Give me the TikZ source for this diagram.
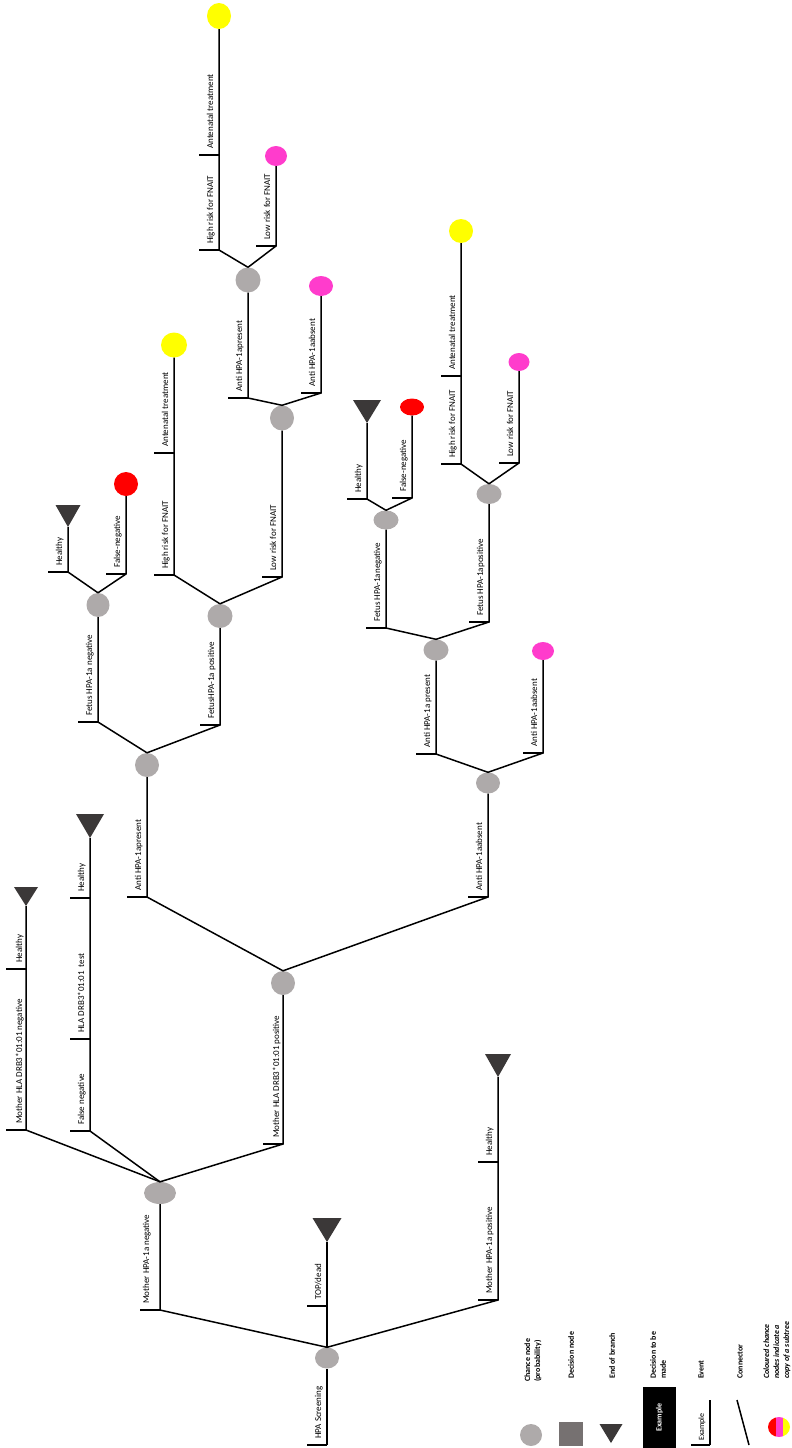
\documentclass[tikz,border=0pt]{standalone}
\usepackage{fontspec}
\setmainfont{Carlito}
\usetikzlibrary{shapes.geometric}

\definecolor{chancegrey}{HTML}{AEAAAA}
\definecolor{endgrey}{HTML}{3B3838}
\definecolor{decgrey}{HTML}{767171}
\definecolor{subred}{HTML}{FF0000}
\definecolor{submag}{HTML}{FF3CCC}
\definecolor{subyel}{HTML}{FFFF00}

\tikzset{
  link/.style={line width=1.5pt, black},
  chance/.style={ellipse, fill=chancegrey, inner sep=0pt, minimum width=24pt, minimum height=22pt},
  subtree/.style={ellipse, inner sep=0pt, minimum width=24pt, minimum height=22pt},
  evlabel/.style={rotate=90, anchor=base west, inner sep=0pt, font=\fontsize{9}{10}\selectfont},
  legendtext/.style={rotate=90, anchor=west, align=left, inner sep=0pt, font=\bfseries\fontsize{8}{10}\selectfont},
}

% event tick with its rotated label: [gap]{coordinate}{text}
\newcommand\evmark[3][6]{%
  \draw[link] (#2) -- ++(-20,0);
  \node[evlabel] (#2-txt) at ([shift={(-#1,-6)}]#2) {#3};}
% end-of-branch triangle hanging above its apex: {apex}{width}{height}
\newcommand\branchstop[3]{%
  \fill[endgrey] (#1) -- ++(-#2/2,-#3) -- ++(#2,0) -- cycle;}

\begin{document}
\begin{tikzpicture}[x=1pt,y=-1pt]
\useasboundingbox (0,0) rectangle (792,1448);

% ---------- chance nodes ----------
\node[chance, minimum height=21pt] (root) at (327,1358) {};
\node[chance, minimum width=32pt] (n1) at (160,1193) {};
\node[chance, minimum height=24pt] (n2) at (283,983) {};
\node[chance, minimum height=24pt] (n3) at (147,765) {};
\node[chance, minimum height=21pt] (n4) at (488,783) {};
\node[chance, minimum width=23pt, minimum height=24pt] (n5) at (98,605) {};
\node[chance, minimum width=25pt, minimum height=24pt] (n6) at (220,616) {};
\node[chance, minimum height=25pt] (n7) at (282,418) {};
\node[chance, minimum width=25pt, minimum height=25pt] (n8) at (248,280) {};
\node[chance, minimum width=25pt, minimum height=21pt] (n9) at (436,650) {};
\node[chance, minimum width=25pt, minimum height=19pt] (n10) at (386,520) {};
\node[chance, minimum width=25pt, minimum height=20pt] (n11) at (489,494) {};

% ---------- coloured subtree copies ----------
\node[subtree, fill=subred, minimum height=24pt] (red1) at (126,484) {};
\node[subtree, fill=subred, minimum height=17pt] (red2) at (412,407) {};
\node[subtree, fill=subyel, minimum width=26pt, minimum height=25pt] (yel1) at (174,345) {};
\node[subtree, fill=subyel, minimum height=26pt] (yel2) at (219,16) {};
\node[subtree, fill=subyel, minimum height=24pt] (yel3) at (461,231) {};
\node[subtree, fill=submag, minimum height=20pt] (mag1) at (321,286) {};
\node[subtree, fill=submag, minimum width=22pt, minimum height=20pt] (mag2) at (276,156) {};
\node[subtree, fill=submag, minimum width=21pt, minimum height=18pt] (mag3) at (519,362) {};
\node[subtree, fill=submag, minimum width=22pt, minimum height=18pt] (mag4) at (543,651) {};

% ---------- event points ----------
\coordinate (eScreen) at (327,1445);
\coordinate (eMneg) at (160,1310);
\coordinate (eTop) at (327,1306);
\coordinate (eMpos) at (498,1300);
\coordinate (eH0) at (498,1162);
\coordinate (eHlaNeg) at (26,1130);
\coordinate (eH1) at (26,969);
\coordinate (eFalseNeg) at (90,1131);
\coordinate (eTest) at (90,1039);
\coordinate (eH2) at (90,898);
\coordinate (eHlaPos) at (283,1144);
\coordinate (eAp1) at (147,897);
\coordinate (eAb1) at (488,897);
\coordinate (eFneg1) at (98,722);
\coordinate (eFpos1) at (220,725);
\coordinate (eH3) at (68,572);
\coordinate (eFn1) at (126,574);
\coordinate (eHr1) at (174,575);
\coordinate (eAt1) at (174,453);
\coordinate (eLr1) at (282,577);
\coordinate (eAp2) at (248,398);
\coordinate (eAb2) at (321,393);
\coordinate (eHr2) at (219,250);
\coordinate (eAt2) at (219,155);
\coordinate (eLr2) at (276,246);
\coordinate (eAp3) at (436,754);
\coordinate (eAb3) at (543,753);
\coordinate (eFneg2) at (386,628);
\coordinate (eFpos2) at (489,622);
\coordinate (eH4) at (367,499);
\coordinate (eFn2) at (412,498);
\coordinate (eHr3) at (461,464);
\coordinate (eAt3) at (461,376);
\coordinate (eLr3) at (519,463);

% end-of-branch apexes
\coordinate (tTop) at (327,1242);
\coordinate (tH0) at (498,1077);
\coordinate (tH1) at (26,906);
\coordinate (tH2) at (90,838);
\coordinate (tH3) at (68,527);
\coordinate (tH4) at (367,423);

% ---------- connectors ----------
\draw[link] (eScreen) -- (root.south);
\draw[link] (root.north) -- (eMneg) -- (n1.south);
\draw[link] (root.north) -- (eTop) -- (tTop);
\draw[link] (root.north) -- (eMpos) -- (eH0) -- (tH0);

\draw[link] (n1.north) -- (eHlaNeg) -- (eH1) -- (tH1);
\draw[link] (n1.north) -- (eFalseNeg) -- (eTest) -- (eH2) -- (tH2);
\draw[link] (n1.north) -- (eHlaPos) -- (n2.south);

\draw[link] (n2.north) -- (eAp1) -- (n3.south);
\draw[link] (n2.north) -- (eAb1) -- (n4.south);

\draw[link] (n3.north) -- (eFneg1) -- (n5.south);
\draw[link] (n3.north) -- (eFpos1) -- (n6.south);

\draw[link] (n5.north) -- (eH3) -- (tH3);
\draw[link] (n5.north) -- (eFn1) -- (red1.south);

\draw[link] (n6.north) -- (eHr1) -- (eAt1) -- (yel1.south);
\draw[link] (n6.north) -- (eLr1) -- (n7.south);

\draw[link] (n7.north) -- (eAp2) -- (n8.south);
\draw[link] (n7.north) -- (eAb2) -- (mag1.south);

\draw[link] (n8.north) -- (eHr2) -- (eAt2) -- (yel2.south);
\draw[link] (n8.north) -- (eLr2) -- (mag2.south);

\draw[link] (n4.north) -- (eAp3) -- (n9.south);
\draw[link] (n4.north) -- (eAb3) -- (mag4.south);

\draw[link] (n9.north) -- (eFneg2) -- (n10.south);
\draw[link] (n9.north) -- (eFpos2) -- (n11.south);

\draw[link] (n10.north) -- (eH4) -- (tH4);
\draw[link] (n10.north) -- (eFn2) -- (red2.south);

\draw[link] (n11.north) -- (eHr3) -- (eAt3) -- (yel3.south);
\draw[link] (n11.north) -- (eLr3) -- (mag3.south);

% ---------- end-of-branch triangles ----------
\branchstop{tTop}{29}{24}
\branchstop{tH0}{26}{23}
\branchstop{tH1}{24}{19}
\branchstop{tH2}{28}{24}
\branchstop{tH3}{25}{22}
\branchstop{tH4}{28}{23}

% ---------- event ticks and labels ----------
\evmark{eScreen}{HPA Screening}
\evmark[11]{eMneg}{Mother HPA-1a negative}
\evmark{eTop}{TOP/dead}
\evmark{eMpos}{Mother HPA-1a positive}
\evmark{eH0}{Healthy}
\evmark[4]{eHlaNeg}{Mother HLA DRB3*01:01 negative}
\evmark[4]{eH1}{Healthy}
\evmark{eFalseNeg}{False negative}
\evmark{eTest}{HLA DRB3*01:01 \ test}
\evmark{eH2}{Healthy}
\evmark[4]{eHlaPos}{Mother HLA DRB3*01:01 positive}
\evmark{eAp1}{Anti HPA-1apresent}
\evmark{eAb1}{Anti HPA-1aabsent}
\evmark{eFneg1}{Fetus HPA-1a negative}
\evmark{eFpos1}{FetusHPA-1a positive}
\evmark{eH3}{Healthy}
\evmark{eFn1}{False-negative}
\evmark{eHr1}{High risk for FNAIT}
\evmark{eAt1}{Antenatal treatment}
\evmark{eLr1}{Low risk for FNAIT}
\evmark{eAp2}{Anti HPA-1apresent}
\evmark{eAb2}{Anti HPA-1aabsent}
\evmark{eHr2}{High risk for FNAIT}
\evmark{eAt2}{Antenatal treatment}
\evmark{eLr2}{Low risk for FNAIT}
\evmark{eAp3}{Anti HPA-1a present}
\evmark{eAb3}{Anti HPA-1aabsent}
\evmark{eFneg2}{Fetus HPA-1anegative}
\evmark{eFpos2}{Fetus HPA-1apositive}
\evmark{eH4}{Healthy}
\evmark{eFn2}{False-negative}
\evmark{eHr3}{High risk for FNAIT}
\evmark{eAt3}{Antenatal treatment}
\evmark{eLr3}{Low risk for FNAIT}

% ---------- legend ----------
\node[chance, minimum width=22pt, minimum height=22pt] (lgChance) at (531,1435) {};
\node[fill=decgrey, minimum size=24pt, inner sep=0pt] (lgDecision) at (571,1434) {};
\coordinate (lgEnd) at (611,1443);
\branchstop{lgEnd}{23}{19}
\node[fill=black, text=white, rotate=90, minimum width=61pt, minimum height=33pt, inner sep=0pt,
      font=\bfseries\fontsize{8}{10}\selectfont] (lgMade) at (659.5,1417.5) {Example};
\coordinate (lgEvent) at (710,1445);
\draw[link] (lgEvent) -- ++(0,-45);
\draw[link] (lgEvent) -- ++(-19,0);
\node[rotate=90, anchor=base west, inner sep=0pt, font=\fontsize{8}{10}\selectfont]
      (lgEventTxt) at ([shift={(-6,-4)}]lgEvent) {Example};
\coordinate (lgConA) at (737,1400);
\coordinate (lgConB) at (749,1445);
\draw[link] (lgConA) -- (lgConB);
\coordinate (lgCol) at (779,1427);
\begin{scope}
  \clip (lgCol) ellipse [x radius=11pt, y radius=10pt];
  \fill[subred] (767,1415) rectangle (776,1439);
  \fill[submag] (776,1415) rectangle (783,1439);
  \fill[subyel] (783,1415) rectangle (792,1439);
\end{scope}

\node[legendtext] (lgT1) at (533,1382) {Chance node\\(probability)};
\node[legendtext] (lgT2) at (571,1379) {Decision node};
\node[legendtext] (lgT3) at (612,1379) {End of branch};
\node[legendtext] (lgT4) at (658,1379) {Decision to be\\made};
\node[legendtext] (lgT5) at (701,1379) {Event};
\node[legendtext] (lgT6) at (740,1379) {Connector};
\node[legendtext, font=\bfseries\itshape\fontsize{8}{10}\selectfont] (lgT7) at (777,1379)
      {Coloured chance\\nodes indicate a\\copy of a subtree};
\end{tikzpicture}
\end{document}
